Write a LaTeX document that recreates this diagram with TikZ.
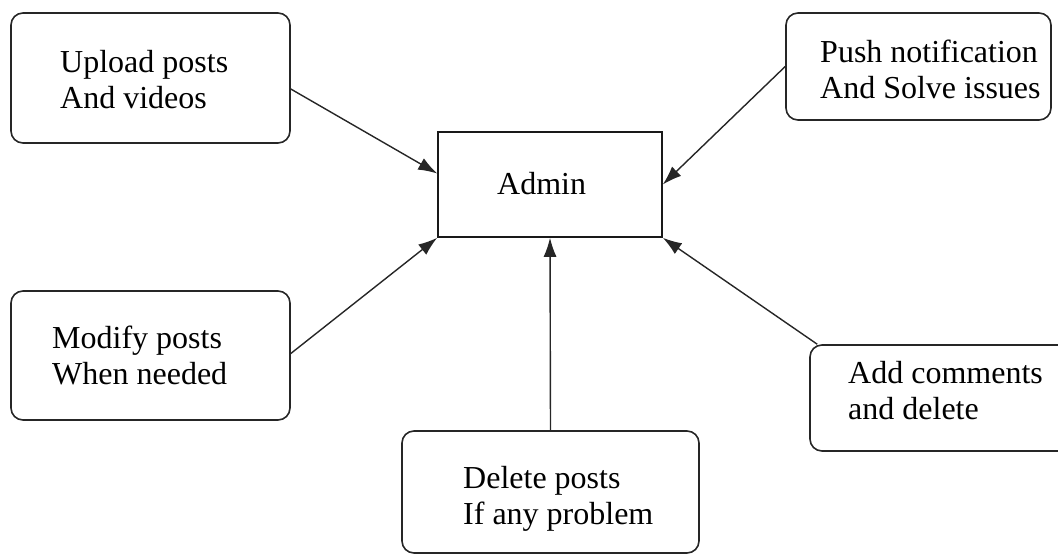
\documentclass[tikz,border=0pt]{standalone}
\usepackage{fontspec}
\setmainfont{Liberation Serif}
\usetikzlibrary{arrows.meta}

\tikzset{
  task/.style={draw=black!85, line width=1.6pt, rounded corners=12pt, inner sep=0pt},
  adminbox/.style={draw=black!90, line width=1.6pt, inner sep=0pt},
  txt/.style={anchor=base west, align=left, inner sep=0pt, font=\fontsize{32}{36}\selectfont},
  link/.style={->, draw=black!85, line width=1.4pt},
}

\begin{document}
\begin{tikzpicture}[x=1pt, y=-1pt, >={Latex[length=19pt,width=13pt]}]
\useasboundingbox (0,0) rectangle (1058,554);
% centre box
\node[adminbox, minimum width=224pt, minimum height=105pt] (admin) at (550,184.5) {};
\node[txt] (admin-t) at (497,194) {Admin};
% task boxes
\node[task, minimum width=279pt, minimum height=130pt] (upload) at (150.5,78) {};
\node[task, minimum width=265pt, minimum height=107pt] (push) at (918.5,66.5) {};
\node[task, minimum width=279pt, minimum height=129pt] (modify) at (150.5,355.5) {};
\node[task, minimum width=297pt, minimum height=122pt] (delete) at (550.5,492) {};
\node[task, minimum width=262pt, minimum height=106pt] (comment) at (941,398) {};
% box texts (base = last line)
\node[txt] (upload-t) at (60,108) {Upload posts\\And videos};
\node[txt] (push-t) at (820,98) {Push notification\\And Solve issues};
\node[txt] (modify-t) at (52,384) {Modify posts\\When needed};
\node[txt] (delete-t) at (463,524) {Delete posts\\If any problem};
\node[txt] (comment-t) at (848,419) {Add comments\\and delete};
% arrows into admin
\draw[link] ([yshift=-11pt]upload.east) -- ([yshift=11pt]admin.west);
\draw[link] (push.west) -- (admin.east);
\draw[link] ([yshift=2pt]modify.east) -- (admin.south west);
\draw[link] (delete.north) -- (admin.south);
\draw[link] ([xshift=8pt]comment.north west) -- (admin.south east);
\end{tikzpicture}
\end{document}
